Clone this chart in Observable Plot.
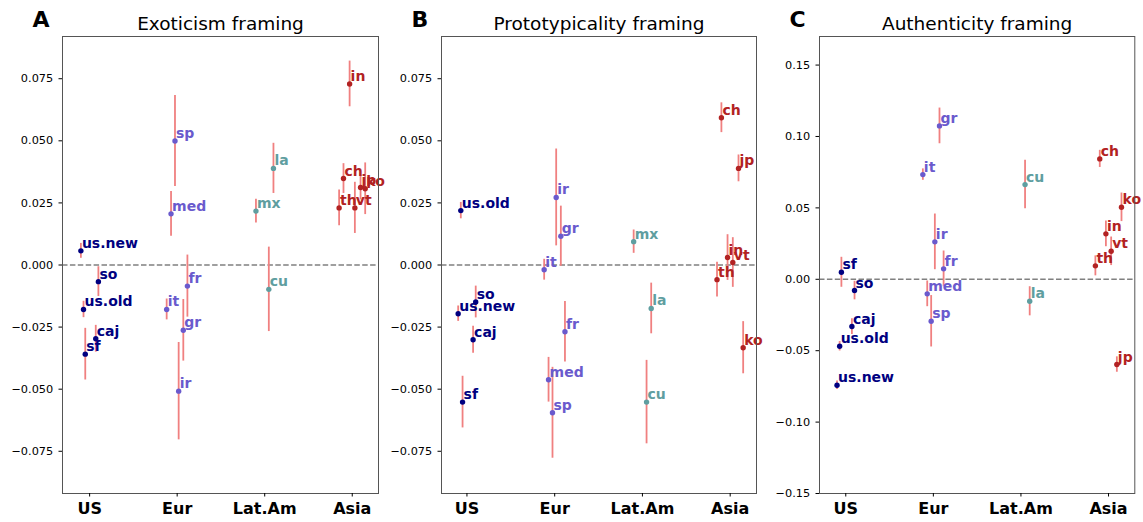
<!DOCTYPE html>
<html>
<head>
<meta charset="utf-8">
<script src="https://cdn.jsdelivr.net/npm/d3@7"></script>
<script src="https://cdn.jsdelivr.net/npm/@observablehq/plot@0.6"></script>
<style>
  body { margin: 0; background: white; }
  #fig { position: relative; width: 1143px; height: 522px; background: white; font-family: "DejaVu Sans", sans-serif; }
  #fig svg { position: absolute; top: 0; overflow: visible; background: none !important; }
</style>
</head>
<body>
<div id="fig"></div>
<script>
// ---- data ----
const regions = ["US", "Eur", "Lat.Am", "Asia"];
const regionColors = ["#000080", "#6A5ACD", "#5F9EA0", "#B22222"];
const cuisines = ["us.new","us.old","so","caj","sf","sp","med","it","fr","gr","ir","la","mx","cu","in","ch","th","vt","jp","ko"];
const cuisineRegion = [0,0,0,0,0,1,1,1,1,1,1,2,2,2,3,3,3,3,3,3];
const cuisineJitter = [-0.10,-0.07,0.10,0.07,-0.05,-0.025,-0.07,-0.12,0.117,0.07,0.017,0.10,-0.10,0.047,-0.03,-0.10,-0.15,0.03,0.095,0.148];

const exoticismValues = [0.0057,-0.0179,-0.0067,-0.0297,-0.0359,0.0499,0.0206,-0.0179,-0.0085,-0.0263,-0.0508,0.0389,0.0217,-0.0098,0.0729,0.0348,0.0230,0.0230,0.0312,0.0307];
const exoticismErrors = [0.0030,0.0033,0.0060,0.0054,0.0104,0.0183,0.0090,0.0042,0.0125,0.0124,0.0196,0.0101,0.0048,0.0170,0.0092,0.0060,0.0072,0.0103,0.0050,0.0104];

const prototypValues = [-0.0196,0.0219,-0.0149,-0.0301,-0.0552,-0.0595,-0.0462,-0.0019,-0.0269,0.0116,0.0272,-0.0175,0.0094,-0.0552,0.0030,0.0593,-0.0059,0.0010,0.0389,-0.0333];
const prototypErrors = [0.0031,0.0033,0.0064,0.0054,0.0104,0.0183,0.0090,0.0042,0.0122,0.0121,0.0195,0.0102,0.0047,0.0168,0.0092,0.0060,0.0070,0.0100,0.0054,0.0105];

const authenticValues = [-0.0742,-0.0469,-0.0079,-0.0331,0.0049,-0.0294,-0.0102,0.0733,0.0073,0.1074,0.0262,-0.0154,null,0.0663,0.0318,0.0843,0.0094,0.0196,-0.0597,0.0504];
const authenticErrors = [0.0030,0.0033,0.0065,0.0055,0.0105,0.0180,0.0090,0.0040,0.0125,0.0125,0.0195,0.0102,null,0.0170,0.0090,0.0060,0.0070,0.0100,0.0054,0.0100];

const ticksAB = [-0.075,-0.05,-0.025,0,0.025,0.05,0.075];
const ticksC = [-0.15,-0.10,-0.05,0,0.05,0.10,0.15];

// ---- drawing ----
function panel({letter, title, values, errors, yDomain, yTicks, yFormat, xDomain, left, width, marginLeft, marginRight}) {
  const rows = cuisines.map((c, i) => ({
    name: c,
    x: cuisineRegion[i] + cuisineJitter[i],
    y: values[i],
    e: errors[i],
    color: regionColors[cuisineRegion[i]]
  })).filter(d => d.y != null);

  const svg = Plot.plot({
    width, height: 522,
    marginTop: 36, marginBottom: 29, marginLeft, marginRight,
    style: {fontFamily: "DejaVu Sans", fontSize: "11.3px", color: "black", background: "none", overflow: "visible"},
    x: {domain: xDomain, label: null},
    y: {domain: yDomain, label: null},
    color: {type: "identity"},
    marks: [
      Plot.ruleY([0], {stroke: "#808080", strokeDasharray: "5.5,2.4", strokeWidth: 1.5}),
      Plot.ruleX(rows, {x: "x", y1: d => d.y - d.e, y2: d => d.y + d.e, stroke: "#F08080", strokeWidth: 1.8}),
      Plot.dot(rows, {x: "x", y: "y", r: 2.7, fill: "color"}),
      Plot.text(rows, {x: "x", y: "y", text: "name", fill: "color", textAnchor: "start", lineAnchor: "bottom", dx: 1, dy: -3, fontWeight: "bold", fontSize: 14}),
      Plot.frame({stroke: "#555", strokeWidth: 1}),
      Plot.axisY({ticks: yTicks, tickFormat: yFormat, tickSize: 3.5, tickPadding: 5.8, label: null}),
      Plot.axisX({ticks: [0,1,2,3], tickFormat: i => regions[i], tickSize: 3.5, tickPadding: 6, fontWeight: "bold", fontSize: 16, label: null}),
      Plot.text([title], {text: d => d, frameAnchor: "top", lineAnchor: "bottom", dy: -6.7, fontSize: 18.5}),
      Plot.text([letter], {text: d => d, frameAnchor: "top-left", textAnchor: "start", lineAnchor: "bottom", dx: -30, dy: -9.3, fontSize: 22, fontWeight: "bold"})
    ]
  });
  svg.style.left = left + "px";
  svg.style.background = "none";
  document.getElementById("fig").appendChild(svg);
}

panel({letter: "A", title: "Exoticism framing", values: exoticismValues, errors: exoticismErrors,
  yDomain: [-0.092, 0.092], yTicks: ticksAB, yFormat: d3.format(".3f"), xDomain: [-0.31, 3.30],
  left: 0, width: 380, marginLeft: 62, marginRight: 2});
panel({letter: "B", title: "Prototypicality framing", values: prototypValues, errors: prototypErrors,
  yDomain: [-0.092, 0.092], yTicks: ticksAB, yFormat: d3.format(".3f"), xDomain: [-0.29, 3.30],
  left: 380, width: 378, marginLeft: 61, marginRight: 2});
panel({letter: "C", title: "Authenticity framing", values: authenticValues, errors: authenticErrors,
  yDomain: [-0.15, 0.17], yTicks: ticksC, yFormat: d3.format(".2f"), xDomain: [-0.30, 3.30],
  left: 758, width: 381, marginLeft: 61, marginRight: 4.7});
</script>
</body>
</html>
